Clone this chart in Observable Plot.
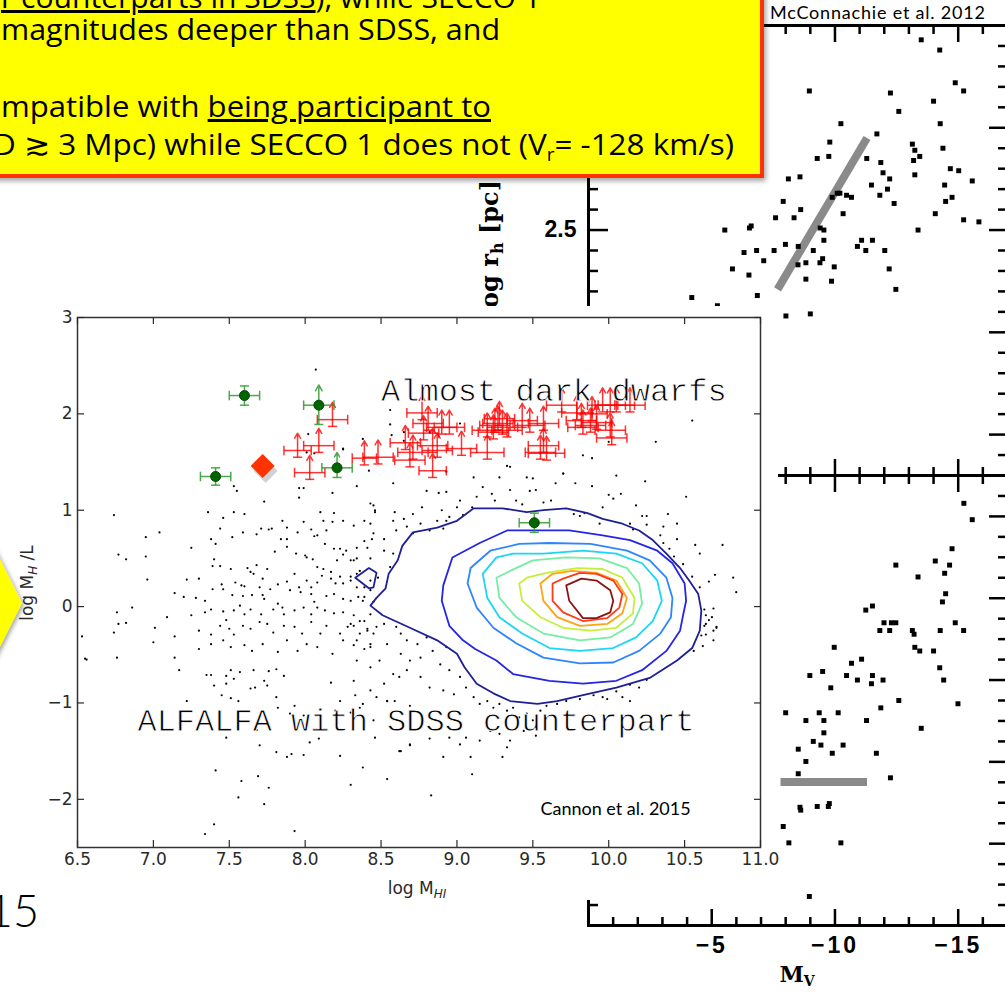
<!DOCTYPE html>
<html>
<head>
<meta charset="utf-8">
<script src="https://cdn.jsdelivr.net/npm/d3@7"></script>
<script src="https://cdn.jsdelivr.net/npm/@observablehq/plot@0.6"></script>
<style>
  html, body { margin:0; padding:0; background:#fff; }
  #stage { position:relative; width:1005px; height:993px; overflow:hidden; background:#fff; }
</style>
</head>
<body>
<div id="stage"></div>
<script>
// ================= Cannon et al. 2015 panel (log M_HI vs log M_HI/L) =================
const cannonXTicks = [6.5, 7.0, 7.5, 8.0, 8.5, 9.0, 9.5, 10.0, 10.5, 11.0];
const cannonYTicks = [-2, -1, 0, 1, 2, 3];

// ALFALFA galaxies with SDSS counterpart (individual points outside the contours)
const alfalfaDots = [
[7.53,1.25],[7.55,1.20],[7.73,1.09],[7.96,1.23],[7.99,1.23],[7.96,1.13],[8.18,1.18],[8.34,1.25],[8.25,1.63],[8.06,1.59],
[7.36,0.98],[7.53,0.98],[7.60,0.96],[7.46,0.92],[6.74,0.95],[7.44,0.81],[7.59,0.77],[7.71,0.81],[7.76,0.80],[7.88,0.82],
[7.99,0.88],[8.10,0.98],[8.19,0.97],[8.12,0.89],[8.18,0.88],[8.25,0.89],[8.32,0.84],[8.39,0.89],[8.45,1.05],[8.46,0.98],
[6.95,0.72],[7.04,0.77],[7.38,0.70],[7.52,0.72],[7.41,0.65],[7.25,0.61],[7.68,0.75],[7.78,0.81],[7.85,0.89],[7.84,0.70],
[7.88,0.70],[7.95,0.77],[8.04,0.80],[8.06,0.73],[8.08,0.74],[8.14,0.79],[8.13,0.65],[8.19,0.60],[8.23,0.60],[8.27,0.58],
[8.34,0.61],[8.39,0.68],[8.41,0.61],[8.44,0.70],[6.77,0.54],[6.82,0.49],[6.95,0.52],[7.40,0.49],[7.39,0.42],[7.44,0.42],
[7.51,0.39],[7.62,0.40],[7.64,0.36],[7.68,0.43],[7.75,0.39],[7.80,0.57],[7.88,0.62],[7.94,0.55],[8.00,0.53],[8.01,0.51],
[8.05,0.49],[8.08,0.41],[8.12,0.39],[8.17,0.36],[8.21,0.48],[8.25,0.54],[8.30,0.48],[8.34,0.50],[8.43,0.50],[6.96,0.28],
[7.22,0.28],[7.30,0.29],[7.39,0.18],[7.45,0.23],[7.54,0.25],[7.58,0.22],[7.60,0.21],[7.66,0.34],[7.72,0.29],[7.70,0.20],
[7.77,0.18],[7.82,0.23],[7.88,0.26],[7.93,0.34],[7.96,0.20],[8.01,0.27],[8.04,0.20],[8.08,0.25],[8.11,0.32],[8.17,0.29],
[8.20,0.24],[8.23,0.31],[8.25,0.24],[8.30,0.31],[8.34,0.20],[8.39,0.20],[8.43,0.27],[7.14,0.14],[7.20,0.10],[7.28,0.09],
[7.34,0.06],[7.46,0.18],[7.52,0.12],[7.59,0.11],[7.65,0.12],[7.72,0.12],[7.73,0.08],[7.82,0.03],[7.85,-0.01],[7.90,0.17],
[7.97,0.15],[8.04,0.13],[8.06,0.05],[8.14,0.11],[8.19,0.13],[8.25,0.08],[8.30,0.06],[8.35,0.10],[8.39,0.10],[6.86,-0.01],
[6.76,-0.06],[7.09,-0.11],[7.25,-0.09],[7.34,-0.06],[7.38,-0.03],[7.46,-0.05],[7.53,-0.04],[7.57,0.01],[7.60,-0.08],[7.64,-0.03],
[7.71,-0.08],[7.79,-0.03],[7.86,-0.08],[7.93,-0.04],[7.99,-0.01],[8.04,-0.08],[8.08,-0.01],[8.13,-0.04],[8.19,-0.07],[8.25,-0.06],
[8.32,-0.09],[8.39,-0.15],[8.43,-0.08],[6.77,-0.18],[6.82,-0.17],[6.74,-0.27],[7.01,-0.22],[7.14,-0.31],[7.30,-0.25],[7.38,-0.29],
[7.44,-0.20],[7.48,-0.14],[7.50,-0.23],[7.53,-0.29],[7.59,-0.20],[7.64,-0.23],[7.70,-0.16],[7.75,-0.18],[7.79,-0.27],[7.86,-0.20],
[7.93,-0.21],[7.98,-0.28],[8.04,-0.16],[8.10,-0.28],[8.14,-0.20],[8.23,-0.28],[8.28,-0.21],[8.32,-0.20],[8.36,-0.28],[8.41,-0.23],
[8.45,-0.28],[6.53,-0.31],[7.00,-0.37],[7.30,-0.44],[7.38,-0.39],[7.46,-0.35],[7.51,-0.42],[7.60,-0.40],[7.65,-0.46],[7.72,-0.39],
[7.82,-0.47],[7.88,-0.35],[7.95,-0.46],[8.01,-0.39],[8.08,-0.42],[8.18,-0.49],[8.25,-0.35],[8.32,-0.40],[8.39,-0.44],[8.43,-0.39],
[6.55,-0.54],[6.76,-0.53],[7.14,-0.53],
[6.56,-0.55],[7.17,-0.66],[7.35,-0.71],[7.38,-0.71],[7.40,-0.82],[7.48,-0.72],[7.51,-0.66],[7.57,-0.68],[7.66,-0.66],[7.73,-0.77],
[7.76,-0.67],[7.81,-0.65],[7.86,-0.72],[7.48,-0.80],[7.53,-0.75],[7.64,-0.85],[7.67,-0.84],[7.75,-0.82],[7.81,-0.94],[7.82,-1.05],
[7.90,-1.11],[7.93,-1.03],[7.99,-1.13],[8.03,-1.41],[8.09,-1.37],[8.17,-0.79],[8.20,-1.08],[8.23,-0.98],[8.30,-1.10],[8.33,-0.92],
[8.36,-1.05],[8.38,-1.01],[8.45,-1.18],[8.46,-1.36],[8.47,-0.94],[8.54,-0.98],[8.59,-0.98],[8.62,-0.73],[8.69,-1.03],[7.22,-0.98],
[7.45,-0.92],[7.51,-0.95],[7.56,-0.98],[7.68,-1.28],[7.70,-1.44],[7.81,-1.51],[7.88,-1.56],[7.91,-1.53],[7.99,-1.54],[8.23,-1.55],
[8.38,-1.67],[8.30,-1.85],[8.54,-1.79],[8.62,-1.50],[8.69,-1.44],[7.48,-1.36],[7.41,-1.70],[7.58,-1.81],[7.69,-1.76],[7.76,-1.88],
[7.56,-1.98],[7.73,-2.05],[7.40,-2.26],[7.34,-2.36],[7.93,-2.33],
[8.07,2.46],[8.56,2.04],[8.56,1.89],[8.38,1.74],[8.01,1.60],[8.25,1.64],
[8.65,1.81],[8.57,1.78],[8.02,1.79],[8.65,1.72],[8.82,1.81],[9.02,1.90],[9.33,1.46],[9.35,1.45],[9.11,1.34],[8.93,1.40],
[9.46,1.34],[9.50,1.33],[9.70,1.38],[9.83,1.57],[9.89,1.54],[10.00,1.71],[8.42,1.41],[9.55,1.59],
[10.55,1.93],[9.28,1.34],[8.58,1.28],[8.80,1.20],[8.88,1.18],[8.93,1.19],[9.17,1.24],[9.23,1.17],[9.35,1.21],[9.48,1.20],
[9.52,1.21],[9.65,1.28],[9.02,1.10],[9.13,1.14],[9.10,1.03],[9.25,1.10],[9.39,1.10],[9.43,1.06],[9.57,1.08],[9.62,1.10],
[8.43,1.07],[8.46,1.00],[8.59,0.98],[8.65,0.91],[8.71,0.96],[8.77,1.03],[8.90,1.00],[8.95,0.93],[9.00,1.03],[9.04,0.95],
[8.43,0.86],[8.58,0.89],[8.67,0.83],[8.76,0.86],[8.87,0.89],[8.93,0.89],[8.45,0.76],[8.52,0.70],[8.60,0.79],[8.71,0.76],
[8.82,0.79],[8.91,0.81],
[8.32,0.48],[8.36,0.37],[8.30,0.27],[8.34,0.34],[8.48,0.30],[8.43,0.17],[8.38,0.06],[8.45,0.05],[8.56,0.41],[8.58,0.55],
[8.52,0.58],[8.30,-0.18],[8.36,-0.15],[8.41,-0.25],[8.47,-0.21],[8.52,-0.18],[8.60,-0.21],[8.34,-0.35],[8.43,-0.42],[8.54,-0.39],
[8.34,-0.56],[8.43,-0.63],[8.49,-0.56],[8.58,-0.70],[8.52,-0.80],[8.43,-0.87],[8.32,-0.77],[8.54,-0.98],
[8.63,-0.28],[8.67,-0.35],[8.74,-0.39],[8.80,-0.32],[8.63,-0.49],[8.69,-0.56],[8.76,-0.53],[8.84,-0.46],[8.93,-0.42],[8.89,-0.60],
[8.95,-0.66],[9.02,-0.73],[8.67,-0.66],[8.76,-0.73],[8.82,-0.84],[8.91,-0.87],[8.98,-0.91],[9.06,-0.84],[9.11,-0.94],[9.15,-1.01],
[9.20,-0.98],[9.24,-1.05],[9.28,-1.01],[9.33,-1.08],[9.37,-1.05],[9.41,-1.15],[9.46,-1.11],[9.50,-1.18],[9.55,-1.08],[9.59,-1.03],
[9.66,-1.01],[9.72,-0.98],[9.81,-0.96],[9.90,-0.92],[9.99,-0.96],[10.05,-0.88],[10.14,-0.81],[10.25,-0.76],[10.20,-0.84],[9.96,-0.94],
[10.09,-0.94],[10.14,-0.98],[8.95,-1.36],[9.02,-1.43],[9.06,-1.36],[9.15,-1.39],[9.22,-1.29],[9.28,-1.32],[9.33,-1.46],[9.35,-1.39],
[9.30,-1.56],[9.44,-1.29],[9.52,-1.34],[8.82,-1.37],[8.63,-1.50],[8.69,-1.43],[8.91,-1.56],[9.09,-1.56],[9.10,-1.74],[8.83,-1.96],
[10.64,-0.18],[10.71,-0.21],[10.69,-0.35],[10.62,-0.41],[10.56,-0.46],
[9.70,1.38],[10.05,1.36],[10.24,1.30],[10.31,1.71],[9.78,1.28],[9.89,1.25],[9.96,1.03],[10.00,1.16],[10.08,1.17],[10.03,1.12],
[10.18,1.05],[10.22,0.94],[10.25,0.94],[10.39,0.96],[10.45,0.86],[10.51,1.14],[9.77,0.96],[9.81,0.94],[9.84,0.97],[9.94,0.86],
[10.14,0.86],[10.25,0.85],[10.36,0.83],[10.16,0.80],[10.34,0.74],[10.36,0.66],[10.40,0.60],[10.45,0.70],[10.57,0.64],[10.60,0.55],
[10.75,0.64],[10.70,0.33],[10.66,0.26],[10.82,0.30],[10.84,0.15],[10.43,0.52],[10.49,0.44],[10.55,0.31],[10.60,0.20],[10.63,-0.03],
[10.64,-0.09],[10.66,-0.14],[10.68,-0.11],[10.69,-0.02],[10.63,-0.20],[10.64,-0.29],[10.71,-0.22],[10.61,-0.30],[10.69,-0.25]
];

// Density contours (outer to inner) and a small detached outer-level island
const contourNames = ["level 1", "level 2", "level 3", "level 4", "level 5", "level 6", "level 7", "level 8", "level 9", "level 1 island"];
const contourColors = ["#1f1f95", "#2525e6", "#2e86ff", "#19d6f5", "#74eea0", "#c6ee3a", "#ffa214", "#ff3a18", "#8a1414", "#1f1f95"];
const contour1 = [[8.43,0.01],[8.47,0.09],[8.53,0.19],[8.55,0.34],[8.61,0.48],[8.64,0.63],[8.71,0.77],[8.87,0.82],[9.00,0.89],[9.11,1.02],[9.30,1.02],[9.46,0.98],[9.57,1.00],[9.72,1.02],[9.86,0.97],[9.96,0.91],[10.09,0.86],[10.20,0.79],[10.29,0.69],[10.38,0.55],[10.47,0.40],[10.53,0.27],[10.59,0.13],[10.61,-0.04],[10.60,-0.25],[10.55,-0.43],[10.45,-0.56],[10.27,-0.74],[10.05,-0.84],[9.83,-0.92],[9.66,-0.98],[9.53,-1.01],[9.35,-0.98],[9.24,-0.90],[9.13,-0.80],[9.05,-0.63],[9.00,-0.49],[8.87,-0.35],[8.69,-0.22],[8.51,-0.09]];
const contour2 = [[8.90,0.06],[8.91,0.22],[8.97,0.51],[9.15,0.66],[9.33,0.79],[9.53,0.79],[9.74,0.79],[9.96,0.74],[10.14,0.69],[10.32,0.58],[10.42,0.45],[10.50,0.24],[10.51,0.06],[10.49,-0.09],[10.47,-0.25],[10.38,-0.46],[10.22,-0.66],[10.05,-0.77],[9.83,-0.80],[9.61,-0.77],[9.37,-0.70],[9.26,-0.56],[9.12,-0.44],[9.04,-0.35],[8.95,-0.20]];
const contour3 = [[9.41,0.65],[9.22,0.58],[9.09,0.40],[9.07,0.24],[9.13,-0.01],[9.24,-0.22],[9.39,-0.38],[9.57,-0.53],[9.81,-0.59],[10.03,-0.58],[10.20,-0.46],[10.34,-0.28],[10.41,-0.11],[10.42,0.09],[10.38,0.30],[10.27,0.48],[10.12,0.58],[9.88,0.65],[9.61,0.66]];
const contour4 = [[9.37,0.55],[9.26,0.51],[9.17,0.34],[9.20,0.09],[9.28,-0.11],[9.43,-0.28],[9.61,-0.43],[9.81,-0.46],[10.03,-0.43],[10.18,-0.32],[10.29,-0.15],[10.35,0.06],[10.32,0.27],[10.22,0.45],[10.05,0.55],[9.83,0.58],[9.57,0.55]];
const contour5 = [[9.35,0.37],[9.26,0.30],[9.28,0.09],[9.39,-0.11],[9.57,-0.28],[9.81,-0.35],[10.01,-0.32],[10.16,-0.18],[10.22,0.03],[10.20,0.24],[10.12,0.40],[9.94,0.50],[9.72,0.51],[9.50,0.48]];
const contour6 = [[9.46,0.30],[9.41,0.24],[9.43,0.06],[9.55,-0.11],[9.70,-0.22],[9.88,-0.25],[10.05,-0.22],[10.16,-0.07],[10.17,0.09],[10.09,0.30],[9.96,0.39],[9.79,0.40],[9.59,0.35]];
const contour7 = [[9.63,0.34],[9.55,0.24],[9.57,0.06],[9.66,-0.11],[9.81,-0.20],[9.99,-0.18],[10.09,-0.07],[10.12,0.09],[10.05,0.27],[9.92,0.35],[9.76,0.37]];
const contour8 = [[9.70,0.29],[9.63,0.24],[9.63,0.06],[9.70,-0.06],[9.83,-0.15],[9.99,-0.12],[10.07,-0.01],[10.09,0.13],[10.03,0.27],[9.92,0.34],[9.81,0.35]];
const contour9 = [[9.82,0.29],[9.72,0.22],[9.74,0.06],[9.83,-0.12],[9.92,-0.12],[10.01,-0.06],[10.03,0.06],[10.01,0.17],[9.92,0.27]];
const contourIsland = [[8.33,0.30],[8.42,0.40],[8.47,0.35],[8.45,0.20],[8.42,0.19]];
const contourLines = [contour1, contour2, contour3, contour4, contour5, contour6, contour7, contour8, contour9, contourIsland];

// Almost dark dwarfs (lower limits on M_HI/L, with errors in M_HI)
const darkX = [7.95,8.09,8.18,8.03,8.39,8.48,8.66,8.71,8.69,8.77,8.81,8.90,8.95,8.78,8.84,8.84,8.87,9.03,9.20,9.20,9.25,9.27,9.30,9.33,9.24,9.28,9.43,9.48,9.57,9.57,9.55,9.59,9.69,9.79,9.82,9.83,9.89,9.92,9.96,10.01,10.05,10.14,10.01,10.02,9.88];
const darkY = [1.62,1.67,1.94,1.39,1.54,1.55,1.70,1.60,1.52,2.01,1.90,1.86,1.86,1.80,1.67,1.41,1.62,1.64,1.60,1.83,1.88,1.90,1.86,1.83,1.81,1.95,1.93,1.88,1.90,1.67,1.60,1.59,2.09,2.01,1.93,1.86,2.00,1.91,2.09,2.09,2.09,2.09,1.83,1.75,1.88];
const darkXerr = [0.09,0.10,0.10,0.10,0.08,0.10,0.10,0.10,0.10,0.10,0.10,0.10,0.10,0.10,0.10,0.09,0.10,0.10,0.11,0.10,0.10,0.10,0.10,0.10,0.10,0.10,0.10,0.10,0.10,0.10,0.10,0.12,0.10,0.10,0.10,0.10,0.10,0.10,0.10,0.10,0.12,0.10,0.10,0.10,0.10];

// Green comparison objects
const greenX = [7.41, 7.60, 8.09, 8.21, 9.51];
const greenY = [1.35, 2.19, 2.09, 1.44, 0.87];
const greenXerr = [0.10, 0.10, 0.10, 0.10, 0.10];
const greenYlo = [0.09, 0.10, 0.20, 0.10, 0.10];
const greenYhi = [0.09, 0.10, 0.21, 0.16, 0.10];
const greenIsLimit = [false, false, true, true, false];

// SECCO 1
const secco1 = [7.72, 1.46];

const cannonNotes = ["Almost dark dwarfs", "ALFALFA with SDSS counterpart"];
const cannonNoteX = [8.50, 6.895];
const cannonNoteY = [2.24, -1.18];
const cannonCredit = "Cannon et al. 2015";
const cannonCreditX = 9.55, cannonCreditY = -2.10;

// ================= McConnachie et al. 2012 panels =================
const mvMinorTicks = [-1,-2,-3,-4,-6,-7,-8,-9,-11,-12,-13,-14,-16];
const mvMajorTicks = [-5,-10,-15];
const rhMinorTicks = [1.4,1.6,1.7,1.8,1.9,2.1,2.2,2.3,2.4,2.6,2.7,2.8,2.9,3.1,3.2,3.3,3.4];
const rhMajorTicks = [1.5,2.0,2.5,3.0];
const muMinorTicks = [21.5,22.5,23,23.5,24.5,25,25.5,26.5,27,27.5,28.5,29,29.5,30.5,31,31.5];
const muMajorTicks = [22,24,26,28,30];

// upper panel: log r_h [pc] vs M_V
const rhPoints = [
[-13.50,3.43],[-14.25,3.38],[-8.96,3.18],[-12.25,3.17],[-14.88,3.22],[-15.22,3.18],[-12.59,3.08],[-14.00,3.13],[-10.24,3.02],[-14.27,3.02],
[-11.70,2.97],[-9.79,2.93],[-13.14,2.92],[-13.24,2.89],[-14.38,2.90],[-9.28,2.85],[-9.75,2.86],[-11.29,2.85],[-11.86,2.83],[-13.44,2.86],
[-13.19,2.84],[-14.68,2.80],[-15.02,2.79],[-8.11,2.75],[-8.58,2.76],[-11.95,2.78],[-12.22,2.75],[-13.24,2.77],[-15.57,2.74],[-11.48,2.72],
[-14.45,2.72],[-10.09,2.68],[-9.89,2.66],[-10.20,2.68],[-10.47,2.67],[-10.67,2.66],[-12.13,2.70],[-11.82,2.67],[-7.90,2.64],[-8.61,2.60],
[-7.59,2.56],[-8.34,2.56],[-10.33,2.58],[-12.40,2.63],[-14.49,2.64],[-14.75,2.66],[-14.07,2.58],[-15.22,2.55],[-15.84,2.54],[-5.53,2.50],
[-6.53,2.51],[-6.60,2.52],[-9.40,2.51],[-9.55,2.50],[-13.37,2.50],[-9.55,2.45],[-7.99,2.43],[-8.51,2.42],[-6.31,2.39],[-6.82,2.40],
[-7.53,2.40],[-9.12,2.40],[-11.08,2.45],[-11.52,2.45],[-10.91,2.42],[-11.25,2.40],[-12.02,2.40],[-7.11,2.35],[-8.82,2.34],[-9.39,2.34],
[-9.50,2.36],[-8.50,2.33],[-9.97,2.32],[-5.84,2.31],[-6.51,2.28],[-8.82,2.26],[-9.86,2.25],[-12.20,2.31],[-12.47,2.21],[-6.85,2.18],
[-4.19,2.17],[-5.23,2.13],[-8.01,2.08],[-9.00,2.09]
];
const rhTrend = {mv1: -7.67, rh1: 2.21, mv2: -11.30, rh2: 2.95};

// lower panel: surface brightness vs M_V
const muPoints = [
[-15.23,21.68],[-15.57,22.08],[-14.75,22.79],[-12.47,23.19],[-14.07,23.09],[-14.65,23.19],[-13.37,23.48],[-14.45,23.39],[-14.49,23.89],[-14.36,24.09],
[-11.25,24.29],[-11.52,24.19],[-11.99,24.60],[-12.29,24.60],[-12.47,24.60],[-11.82,24.79],[-12.22,24.79],[-13.14,24.79],[-13.21,24.88],[-14.88,24.60],
[-15.22,24.79],[-14.27,24.79],[-9.97,25.20],[-13.24,25.20],[-13.44,25.29],[-14.00,25.29],[-14.25,25.70],[-14.41,26.00],[-10.67,25.59],[-11.08,25.49],
[-8.98,25.89],[-9.50,25.79],[-10.47,25.89],[-10.91,26.00],[-11.52,25.89],[-11.48,26.09],[-11.95,26.00],[-9.83,26.19],[-12.59,26.50],[-14.99,26.58],
[-8.00,26.80],[-9.36,26.80],[-10.13,26.80],[-8.82,26.99],[-9.55,26.99],[-11.28,26.99],[-11.86,26.68],[-9.55,27.29],[-13.50,27.18],[-9.12,27.50],
[-9.43,27.59],[-10.33,27.59],[-8.51,27.69],[-8.82,27.99],[-9.89,27.79],[-11.68,27.79],[-8.51,28.29],[-12.25,28.39],[-8.58,29.11],[-8.61,29.18],
[-9.28,29.09],[-9.77,29.02],[-9.73,29.09],[-7.90,29.58],[-8.13,29.98],[-10.24,29.98],[-8.96,31.29]
];
const muLimit = {mv1: -7.79, mv2: -11.30, mu: 28.49};
const mcCredit = "McConnachie et al. 2012";

// ================= slide text =================
const boxLines = [
  [{t: "r counterparts in SDSS", u: true}, {t: "), while SECCO 1"}],
  [{t: "magnitudes deeper than SDSS, and"}],
  [{t: "mpatible with "}, {t: "being participant to", u: true}],
  [{t: "D \u2273 3 Mpc) while SECCO 1 does not (V"}, {t: "r", sub: true}, {t: "= -128 km/s)"}]
];
const boxLineBaseline = [8, 40, 117, 155];
const boxLineStart = [1, 1, 1, -7];
const boxLineWidth = [540, 499, 490, 741];
const yearFragment = "2015";

// ======================================================================
const stage = document.getElementById("stage");
function place(el, left, top) {
  el.style.position = "absolute";
  el.style.left = left + "px";
  el.style.top = top + "px";
  el.style.maxWidth = "none";
  el.style.background = "transparent";
  stage.appendChild(el);
}
const noText = () => "";
function tk(axis, anchor, ticks, size, sw) {
  const f = axis === "x" ? Plot.axisX : Plot.axisY;
  return f({anchor, ticks, tickSize: size, tickFormat: noText, strokeWidth: sw, label: null});
}

// ---------- McConnachie upper panel ----------
const mcTop = Plot.plot({
  width: 1020, height: 500, marginLeft: 588, marginRight: 13, marginTop: 25, marginBottom: 25,
  x: {domain: [0, -17]}, y: {domain: [1.3, 3.5]},
  style: {background: "transparent", fontFamily: "Liberation Sans, Arial, sans-serif", fontSize: "23px", fontWeight: "bold", color: "#000"},
  marks: [
    Plot.link([rhTrend], {x1: "mv1", y1: "rh1", x2: "mv2", y2: "rh2", stroke: "#8a8a8a", strokeWidth: 8}),
    Plot.dot(rhPoints, {x: d => d[0], y: d => d[1], symbol: "square", r: 2.8, fill: "#000"}),
    Plot.frame({stroke: "#000", strokeWidth: 3}),
    tk("y", "left", rhMinorTicks, -10, 2.5), tk("y", "left", rhMajorTicks, -20, 2.5),
    tk("y", "right", rhMinorTicks, -10, 2.5), tk("y", "right", rhMajorTicks, -19, 2.5),
    tk("x", "top", mvMinorTicks, -8, 2.5), tk("x", "top", mvMajorTicks, -16, 2.5),
    tk("x", "bottom", mvMinorTicks, -8, 2.5), tk("x", "bottom", mvMajorTicks, -16, 2.5),
    Plot.axisY({anchor: "left", ticks: rhMajorTicks, tickSize: 0, tickPadding: 12, tickFormat: d3.format(".1f"), label: null})
  ]
});
place(mcTop, 0, 0);
{
  const lab = d3.select(mcTop).append("text")
    .attr("transform", "translate(498,180) rotate(-90)")
    .attr("text-anchor", "end").attr("font-family", "DejaVu Serif, serif")
    .attr("font-weight", "bold").attr("font-size", 24).attr("fill", "#000");
  lab.append("tspan").text("log r");
  lab.append("tspan").attr("font-size", 16).attr("dy", 5).text("h");
  lab.append("tspan").attr("dy", -5).text(" [pc]");
}

// ---------- McConnachie lower panel ----------
const mcBottom = Plot.plot({
  width: 1020, height: 543, marginLeft: 588, marginRight: 13, marginTop: 25, marginBottom: 68,
  x: {domain: [0, -17]}, y: {domain: [32, 21]},
  style: {background: "transparent", fontFamily: "Liberation Sans, Arial, sans-serif", fontSize: "23px", fontWeight: "bold", color: "#000", letterSpacing: "3px"},
  marks: [
    Plot.link([muLimit], {x1: "mv1", x2: "mv2", y1: "mu", y2: "mu", stroke: "#8a8a8a", strokeWidth: 8}),
    Plot.dot(muPoints, {x: d => d[0], y: d => d[1], symbol: "square", r: 2.8, fill: "#000"}),
    Plot.frame({stroke: "#000", strokeWidth: 3}),
    tk("y", "left", muMinorTicks, -10, 2.5), tk("y", "left", muMajorTicks, -20, 2.5),
    tk("y", "right", muMinorTicks, -10, 2.5), tk("y", "right", muMajorTicks, -19, 2.5),
    tk("x", "top", mvMinorTicks, -8, 2.5), tk("x", "top", mvMajorTicks, -16, 2.5),
    tk("x", "bottom", mvMinorTicks, -8, 2.5), tk("x", "bottom", mvMajorTicks, -16, 2.5),
    Plot.axisX({anchor: "bottom", ticks: mvMajorTicks, tickSize: 0, tickPadding: 11, tickFormat: d3.format("d"), label: null})
  ]
});
place(mcBottom, 0, 450);
{
  const lab = d3.select(mcBottom).append("text")
    .attr("x", 797).attr("y", 532).attr("text-anchor", "middle")
    .attr("font-family", "DejaVu Serif, serif").attr("font-weight", "bold")
    .attr("font-size", 22).attr("fill", "#000").attr("letter-spacing", 0);
  lab.append("tspan").text("M");
  lab.append("tspan").attr("font-size", 14).attr("dy", 4).text("V");
}

// ---------- white background of the inset Cannon figure ----------
const bg = document.createElement("div");
bg.style.width = "778px"; bg.style.height = "594px";
place(bg, 0, 306);
bg.style.background = "#fff";

// ---------- yellow callout arrow on the left ----------
const hex = d3.create("svg").attr("width", 60).attr("height", 300).style("overflow", "visible");
hex.append("defs").append("filter").attr("id", "hexsh").attr("x", "-50%").attr("y", "-20%").attr("width", "200%").attr("height", "140%")
  .append("feDropShadow").attr("dx", 2).attr("dy", 2).attr("stdDeviation", 2).attr("flood-color", "#000").attr("flood-opacity", 0.35);
hex.append("polygon").attr("points", "-40,180 22,303 -40,426").attr("fill", "#ffff00").attr("filter", "url(#hexsh)");
place(hex.node(), 0, 300);

// ---------- Cannon et al. 2015 figure ----------
const dark = darkX.map((x, i) => ({x, y: darkY[i], e: darkXerr[i]}));
const darkCaps = dark.flatMap(d => [{x: d.x - d.e, y: d.y}, {x: d.x + d.e, y: d.y}]);
const green = greenX.map((x, i) => ({x, y: greenY[i], e: greenXerr[i], lo: greenYlo[i], hi: greenYhi[i], lim: greenIsLimit[i]}));
const greenXCaps = green.flatMap(d => [{x: d.x - d.e, y: d.y}, {x: d.x + d.e, y: d.y}]);
const greenYCaps = green.flatMap(d => d.lim ? [{x: d.x, y: d.y - d.lo}] : [{x: d.x, y: d.y - d.lo}, {x: d.x, y: d.y + d.hi}]);
const contourTable = contourLines.flatMap((pts, i) => pts.map(([x, y]) => ({level: contourNames[i], x, y})));
const notes = cannonNotes.map((t, i) => ({t, x: cannonNoteX[i], y: cannonNoteY[i]}));

const RED = "#ff0000", GREEN = "#2f9a2f";
const redStyle = {stroke: RED, strokeWidth: 1.5, strokeOpacity: 0.8};
const greenStyle = {stroke: GREEN, strokeWidth: 1.5, strokeOpacity: 0.85};
const CAPY = 0.05, CAPX = 0.03;

const cannon = Plot.plot({
  width: 800, height: 610, marginLeft: 77, marginRight: 40, marginTop: 27, marginBottom: 53,
  x: {domain: [6.5, 11]}, y: {domain: [-2.5, 3]},
  color: {domain: contourNames, range: contourColors},
  style: {background: "transparent", fontFamily: "DejaVu Sans, sans-serif", fontSize: "17px", color: "#2a2a2a"},
  marks: [
    Plot.dot(alfalfaDots, {x: d => d[0], y: d => d[1], r: 1.1, fill: "#000"}),
    Plot.line(contourTable, {x: "x", y: "y", z: "level", stroke: "level", curve: "linear-closed", strokeWidth: 1.8}),
    // almost dark dwarfs
    Plot.link(dark, {x1: d => d.x - d.e, x2: d => d.x + d.e, y1: "y", y2: "y", ...redStyle}),
    Plot.link(darkCaps, {x1: "x", x2: "x", y1: d => d.y - CAPY, y2: d => d.y + CAPY, ...redStyle}),
    Plot.link(dark, {x1: "x", x2: "x", y1: d => d.y - 0.07, y2: "y", ...redStyle}),
    Plot.link(dark, {x1: d => d.x - CAPX, x2: d => d.x + CAPX, y1: d => d.y - 0.07, y2: d => d.y - 0.07, ...redStyle}),
    Plot.arrow(dark, {x1: "x", x2: "x", y1: "y", y2: d => d.y + 0.18, headLength: 8, headAngle: 60, ...redStyle}),
    // green objects
    Plot.link(green, {x1: d => d.x - d.e, x2: d => d.x + d.e, y1: "y", y2: "y", ...greenStyle}),
    Plot.link(greenXCaps, {x1: "x", x2: "x", y1: d => d.y - CAPY, y2: d => d.y + CAPY, ...greenStyle}),
    Plot.link(green.filter(d => !d.lim), {x1: "x", x2: "x", y1: d => d.y - d.lo, y2: d => d.y + d.hi, ...greenStyle}),
    Plot.link(green.filter(d => d.lim), {x1: "x", x2: "x", y1: d => d.y - d.lo, y2: "y", ...greenStyle}),
    Plot.arrow(green.filter(d => d.lim), {x1: "x", x2: "x", y1: "y", y2: d => d.y + d.hi, headLength: 8, headAngle: 60, ...greenStyle}),
    Plot.link(greenYCaps, {x1: d => d.x - CAPX, x2: d => d.x + CAPX, y1: "y", y2: "y", ...greenStyle}),
    Plot.dot(green, {x: "x", y: "y", r: 5, fill: "#006400", stroke: "#0b4a0b", strokeWidth: 1}),
    // SECCO 1
    Plot.dot([secco1], {x: d => d[0], y: d => d[1], symbol: "diamond2", r: 10.8, fill: "#000", fillOpacity: 0.18, dx: 3, dy: 5}),
    Plot.dot([secco1], {x: d => d[0], y: d => d[1], symbol: "diamond2", r: 10.8, fill: "#ff3300"}),
    // annotations
    Plot.text(notes, {x: "x", y: "y", text: "t", textAnchor: "start", fontFamily: "Courier New, Liberation Mono, monospace", fontSize: 32, fill: "#000", stroke: "#fff", strokeWidth: 0.8, paintOrder: "normal"}),
    Plot.text([cannonCredit], {x: () => cannonCreditX, y: () => cannonCreditY, text: d => d, textAnchor: "start", fontFamily: "Lato, Open Sans, sans-serif", fontSize: 18, fill: "#000"}),
    // frame & axes
    Plot.frame({stroke: "#333", strokeWidth: 1.5}),
    tk("x", "bottom", cannonXTicks, -7, 1.2), tk("x", "top", cannonXTicks, -6, 1.2),
    tk("y", "left", cannonYTicks, -7, 1.2), tk("y", "right", cannonYTicks, -7, 1.2),
    Plot.axisX({anchor: "bottom", ticks: cannonXTicks, tickSize: 0, tickPadding: 5, tickFormat: d3.format(".1f"), label: null}),
    Plot.axisY({anchor: "left", ticks: cannonYTicks, tickSize: 0, tickPadding: 5, tickFormat: d3.format("d"), label: null})
  ]
});
place(cannon, 0, 290);
{
  const cs = d3.select(cannon);
  const xl = cs.append("text").attr("x", 417).attr("y", 604).attr("text-anchor", "middle")
    .attr("font-family", "DejaVu Sans, sans-serif").attr("font-size", 17).attr("fill", "#2a2a2a");
  xl.append("tspan").text("log M");
  xl.append("tspan").attr("font-style", "italic").attr("font-size", 12).attr("dy", 4).text("HI");
  const yl = cs.append("text").attr("transform", "translate(33,293) rotate(-90)").attr("text-anchor", "middle")
    .attr("font-family", "DejaVu Sans, sans-serif").attr("font-size", 17).attr("fill", "#2a2a2a");
  yl.append("tspan").text("log M");
  yl.append("tspan").attr("font-style", "italic").attr("font-size", 12).attr("dy", 4).text("H");
  yl.append("tspan").attr("dy", -4).text(" /L");
}

// ---------- slide overlay: yellow text box, credits ----------
const ov = d3.create("svg").attr("width", 1005).attr("height", 993).style("pointer-events", "none");
ov.append("defs").append("filter").attr("id", "boxsh").attr("x", "-5%").attr("y", "-5%").attr("width", "115%").attr("height", "130%")
  .append("feDropShadow").attr("dx", 2).attr("dy", 3).attr("stdDeviation", 2.5).attr("flood-color", "#000").attr("flood-opacity", 0.35);
ov.append("rect").attr("x", -10).attr("y", -10).attr("width", 772).attr("height", 186)
  .attr("fill", "#ffff00").attr("stroke", "#ff3300").attr("stroke-width", 4).attr("filter", "url(#boxsh)");
boxLines.forEach((segs, i) => {
  const t = ov.append("text").attr("x", boxLineStart[i]).attr("y", boxLineBaseline[i])
    .attr("textLength", boxLineWidth[i]).attr("lengthAdjust", "spacingAndGlyphs")
    .attr("font-family", "Open Sans, Lato, sans-serif").attr("font-size", 30).attr("fill", "#000");
  let shifted = false;
  segs.forEach(s => {
    const sp = t.append("tspan").text(s.t);
    if (s.u) sp.attr("text-decoration", "underline");
    if (s.sub) { sp.attr("font-size", 18).attr("dy", 6); shifted = true; }
    else if (shifted) { sp.attr("dy", -6); shifted = false; }
  });
});
ov.append("text").attr("x", 770).attr("y", 19).attr("textLength", 215)
  .attr("font-family", "Lato, Open Sans, sans-serif").attr("font-size", 18).attr("fill", "#000").text(mcCredit);
ov.append("text").attr("x", 39).attr("y", 927).attr("text-anchor", "end")
  .attr("font-family", "Lato, Open Sans, sans-serif").attr("font-weight", 300).attr("font-size", 45).attr("fill", "#000").text(yearFragment);
place(ov.node(), 0, 0);
</script>
</body>
</html>
